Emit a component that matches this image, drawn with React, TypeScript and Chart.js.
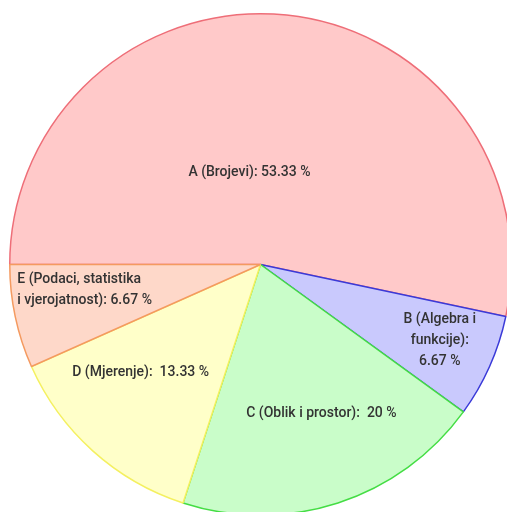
import React, { useEffect, useRef } from "react";
import { Chart, registerables } from "chart.js";

Chart.register(...registerables);

const categories = ["A (Brojevi)", "B (Algebra i funkcije)", "C (Oblik i prostor)", "D (Mjerenje)", "E (Podaci, statistika i vjerojatnost)"];
const percentages = [53.33, 6.67, 20, 13.33, 6.67];
const labelLines = [
  ["A (Brojevi): 53.33 %"],
  ["B (Algebra i", "funkcije):", "6.67 %"],
  ["C (Oblik i prostor):  20 %"],
  ["D (Mjerenje):  13.33 %"],
  ["E (Podaci, statistika", "i vjerojatnost): 6.67 %"],
];
const fillColors = ["#ffc9c9", "#c9c9fd", "#c9fdc9", "#ffffc9", "#fed8c9"];
const borderColors = ["#ee6e78", "#3a3ad8", "#44dd44", "#f4f060", "#f49a60"];

// label anchor offsets, as fractions of the radius from the pie centre
const labelAnchors = [
  { dx: -0.044, dy: -0.367, align: "center" },
  { dx: 0.715, dy: 0.305, align: "center" },
  { dx: 0.243, dy: 0.594, align: "center" },
  { dx: -0.478, dy: 0.43, align: "center" },
  { dx: -0.97, dy: 0.1, align: "left" },
];

const labelPlugin = {
  id: "sliceLabels",
  afterDatasetsDraw(chart: any) {
    const meta = chart.getDatasetMeta(0);
    const ctx = chart.ctx;
    ctx.save();
    ctx.font = "500 14px Roboto";
    ctx.fillStyle = "#333333";
    ctx.textBaseline = "middle";
    meta.data.forEach((arc: any, i: number) => {
      const r = arc.outerRadius;
      const a = labelAnchors[i];
      const x = arc.x + a.dx * r;
      const lines = labelLines[i];
      const lh = 21;
      const y0 = arc.y + a.dy * r - ((lines.length - 1) * lh) / 2;
      ctx.textAlign = a.align;
      lines.forEach((t, k) => ctx.fillText(t, x, y0 + k * lh));
    });
    ctx.restore();
  },
};

export default function App() {
  const ref = useRef<HTMLCanvasElement | null>(null);
  useEffect(() => {
    document.body.style.margin = "0";
    const chart = new Chart(ref.current!, {
      type: "pie",
      data: {
        labels: categories,
        datasets: [
          {
            data: percentages,
            backgroundColor: fillColors,
            borderColor: borderColors,
            borderWidth: 1.5,
          },
        ],
      },
      options: {
        animation: false,
        responsive: false,
        rotation: -90,
        layout: { padding: 0 },
        plugins: { legend: { display: false }, tooltip: { enabled: false } },
      },
      plugins: [labelPlugin],
    });
    return () => chart.destroy();
  }, []);
  return (
    <div style={{ position: "fixed", left: 0, top: 0, width: 507, height: 512, overflow: "hidden", background: "#fff" }}>
      <canvas ref={ref} width={503} height={503} style={{ position: "absolute", left: 9, top: 13, width: 503, height: 503 }} />
    </div>
  );
}
